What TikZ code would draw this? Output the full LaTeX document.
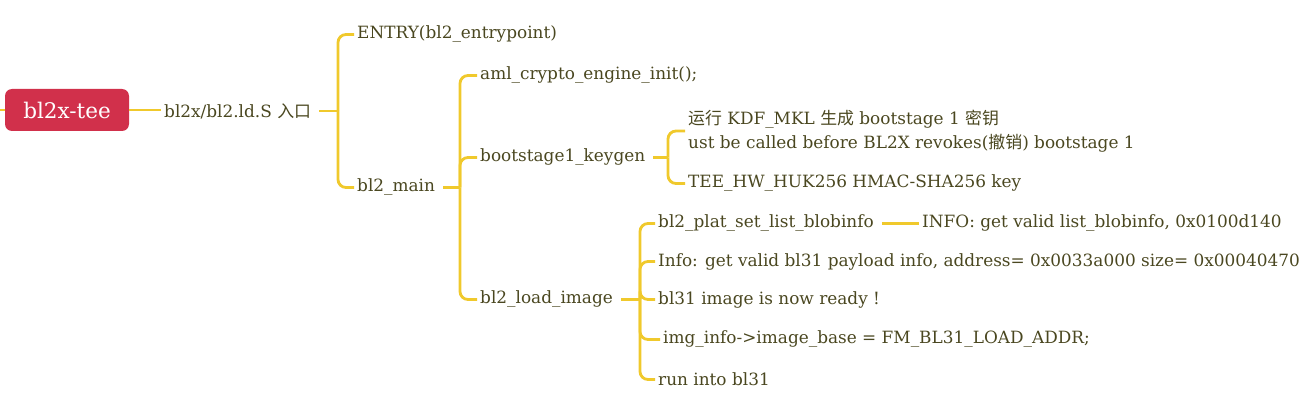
\documentclass[tikz,border=0pt]{standalone}
\usepackage{fontspec}
\setmainfont{DejaVu Serif}
\newfontfamily\cjk{Noto Sans CJK SC}
\usetikzlibrary{calc}
\definecolor{lineY}{HTML}{F0C92C}
\definecolor{txtC}{HTML}{4A4720}
\definecolor{rootC}{HTML}{D1304B}
\tikzset{
  lbl/.style={anchor=west, inner xsep=3pt, inner ysep=0pt, text=txtC, font=\fontsize{16.9}{20}\selectfont},
  link/.style={draw=lineY, line width=2.8pt},
  brk/.style={draw=lineY, line width=2.8pt, rounded corners=8pt},
  rootbox/.style={fill=rootC, rounded corners=7pt, minimum width=124pt, minimum height=42pt, text=white, font=\fontsize{21.5}{26}\selectfont, inner sep=0pt}
}
\begin{document}
\begin{tikzpicture}[x=1pt,y=-1pt]
\useasboundingbox (0,0) rectangle (1316,406);
% nodes
\coordinate (stub) at (0,110);
\node[rootbox] (root) at (67,110) {bl2x-tee};
\node[lbl] (ld) at (161,111) {bl2x/bl2.ld.S {\cjk 入口}};
\node[lbl] (entry) at (354,34.5) {ENTRY(bl2\_entrypoint)};
\node[lbl] (main) at (354,187.5) {bl2\_main};
\node[lbl] (aml) at (477,75.5) {aml\_crypto\_engine\_init();};
\node[lbl] (keygen) at (477,157.5) {bootstage1\_keygen};
\node[lbl] (load) at (477,299.5) {bl2\_load\_image};
\node[lbl, align=left] (kdf) at (685,131) {{\cjk 运行} KDF\_MKL {\cjk 生成} bootstage 1 {\cjk 密钥}\\[4pt]ust be called before BL2X revokes({\cjk 撤销}) bootstage 1};
\node[lbl] (huk) at (685,183.5) {TEE\_HW\_HUK256 HMAC-SHA256 key};
\node[lbl] (blob) at (655,223.5) {bl2\_plat\_set\_list\_blobinfo};
\node[lbl] (valid) at (919,223.5) {INFO: get valid list\_blobinfo, 0x0100d140};
\node[lbl] (info) at (655,261.5) {Info: get valid bl31 payload info, address= 0x0033a000 size= 0x00040470};
\node[lbl] (ready) at (655,299.5) {bl31 image is now ready !};
\node[lbl] (img) at (660,339.5) {img\_info->image\_base = FM\_BL31\_LOAD\_ADDR;};
\node[lbl] (run) at (655,379.5) {run into bl31};
% connectors
\draw[link] (stub) -- (root.west);
\draw[link] (root.east) -- (root.east -| ld.west);
% bracket 1
\coordinate (b1) at (338,111);
\draw[link] ($(ld.east)+(5,0)$) -- (b1);
\draw[brk] (b1) |- (entry.west);
\draw[brk] (b1) |- (main.west);
% bracket 2
\coordinate (b2) at (460,187.5);
\draw[link] ($(main.east)+(5,0)$) -- (b2);
\draw[brk] (b2) |- (aml.west);
\draw[brk] (b2) |- (keygen.west);
\draw[brk] (b2) |- (load.west);
% bracket 3
\coordinate (b3) at (668,157.5);
\draw[link] ($(keygen.east)+(5,0)$) -- (b3);
\draw[brk] (b3) |- (kdf.west);
\draw[brk] (b3) |- (huk.west);
% bracket 4
\coordinate (b4) at (640,299.5);
\draw[link] ($(load.east)+(5,0)$) -- (b4);
\draw[brk] (b4) |- (blob.west);
\draw[brk] (b4) |- (info.west);
\draw[brk] (b4) |- (ready.west);
\draw[brk] (b4) |- (img.west);
\draw[brk] (b4) |- (run.west);
% blob -> valid
\draw[link] ($(blob.east)+(5,0)$) -- (valid.west);
\end{tikzpicture}
\end{document}
